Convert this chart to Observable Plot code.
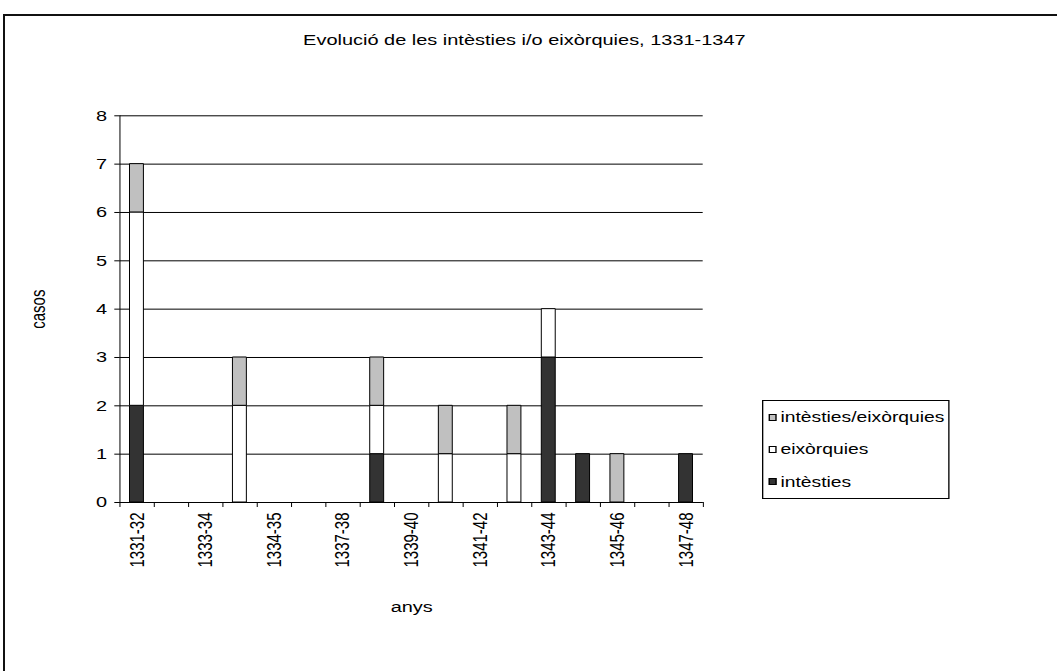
<!DOCTYPE html>
<html><head><meta charset="utf-8">
<script src="https://cdn.jsdelivr.net/npm/d3@7"></script>
<script src="https://cdn.jsdelivr.net/npm/@observablehq/plot@0.6"></script>
<style>
html,body{margin:0;padding:0;background:#fff;}
#root{position:relative;width:1057px;height:671px;overflow:hidden;font-family:"Liberation Sans",Arial,sans-serif;color:#000;}
#frame{position:absolute;left:3px;top:14px;width:1100px;height:700px;border:2px solid #111;box-sizing:border-box;}
#chart{position:absolute;left:0;top:0;}
#chart svg line, #chart svg rect, #chart svg path{vector-effect:non-scaling-stroke;}
#title{position:absolute;left:0;top:31px;width:1048px;text-align:center;font-size:15px;line-height:17px;white-space:nowrap;}
#title span{display:inline-block;transform:scaleX(1.33);}
#legend{position:absolute;left:762px;top:400px;height:99px;border:1px solid #000;box-sizing:border-box;transform-origin:0 0;background:#fff;}
.item{height:32.3px;display:flex;align-items:center;font-size:14.5px;white-space:nowrap;}
.sw{height:5px;border:1px solid #000;}
</style></head>
<body>
<div id="root">
  <div id="frame"></div>
  <div id="chart"></div>
  <div id="title"><span>Evolució de les intèsties i/o eixòrquies, 1331-1347</span></div>
  <div id="legend"></div>
</div>
<script>
const categories = ["1331-32","1332-33","1333-34","1334","1334-35","1335-36","1337-38","1338-39","1339-40","1340-41","1341-42","1342-43","1343-44","1344-45","1345-46","1346-47","1347-48"];
const tickLabels = ["1331-32","1333-34","1334-35","1337-38","1339-40","1341-42","1343-44","1345-46","1347-48"];
const series = ["intèsties","eixòrquies","intèsties/eixòrquies"];
const seriesColors = ["#333333","#ffffff","#c0c0c0"];
const intesties  = [2,0,0,0,0,0,0,1,0,0,0,0,3,1,0,0,1];
const eixorquies = [4,0,0,2,0,0,0,1,0,1,0,1,1,0,0,0,0];
const ambdues     = [1,0,0,1,0,0,0,1,0,1,0,1,0,0,1,0,0];
const yTicks = [0,1,2,3,4,5,6,7,8];

const values = [intesties, eixorquies, ambdues];
const data = [];
series.forEach((s, j) => categories.forEach((c, i) => {
  if (values[j][i] > 0) data.push({period: c, serie: s, casos: values[j][i]});
}));

const K = 1.33;
const W = 1057 / K, H = 671;
const mL = 119.3 / K, mR = (1057 - 702.7) / K, mT = 115.3, mB = 671 - 502;
const step = (W - mL - mR) / categories.length;

const chart = Plot.plot({
  width: W, height: H,
  marginLeft: mL, marginRight: mR, marginTop: mT, marginBottom: mB,
  style: {fontFamily: "Liberation Sans, Arial, sans-serif", fontSize: "15px", color: "#000", background: "transparent", overflow: "visible"},
  x: {type: "band", domain: categories, padding: 0, round: false},
  y: {domain: [0, 8]},
  color: {domain: series, range: seriesColors},
  marks: [
    Plot.gridY({ticks: yTicks, stroke: "#000", strokeOpacity: 1}),
    Plot.barY(data, {x: "period", y: "casos", fill: "serie", stroke: "#000", strokeWidth: 1, insetLeft: 10.2 / K, insetRight: 10.2 / K}),
    Plot.ruleY([0], {stroke: "#000"}),
    Plot.ruleX([categories[0]], {dx: -step / 2, stroke: "#000"}),
    Plot.axisY({ticks: yTicks, tickSize: 5 / K, tickPadding: 6, label: "casos", labelAnchor: "center", labelOffset: 67, labelArrow: false}),
    Plot.axisX({ticks: categories, tickSize: 5, dx: -step / 2, tickFormat: () => "", label: null}),
    Plot.axisX({ticks: [categories[categories.length - 1]], tickSize: 5, dx: step / 2, tickFormat: () => "", label: null}),
    Plot.axisX({ticks: tickLabels, tickSize: 0, tickPadding: 10, tickRotate: -90, label: "anys", labelAnchor: "center", labelOffset: 109})
  ]
});
chart.setAttribute("width", 1057);
chart.setAttribute("preserveAspectRatio", "none");
chart.style.width = "1057px";
chart.style.height = "671px";
chart.style.maxWidth = "none";
document.getElementById("chart").appendChild(chart);

// legend
const color = chart.scale("color");
const legend = document.getElementById("legend");
legend.style.width = (187 / K) + "px";
legend.style.transform = `scaleX(${K})`;
series.slice().reverse().forEach(s => {
  const it = document.createElement("div");
  it.className = "item";
  const sw = document.createElement("span");
  sw.className = "sw";
  sw.style.width = (7 / K - 2) + "px";
  sw.style.marginLeft = (7 / K - 1) + "px";
  sw.style.marginRight = (4.5 / K) + "px";
  sw.style.background = color.apply(s);
  const tx = document.createElement("span");
  tx.textContent = s;
  it.appendChild(sw); it.appendChild(tx);
  legend.appendChild(it);
});
</script>
</body></html>
